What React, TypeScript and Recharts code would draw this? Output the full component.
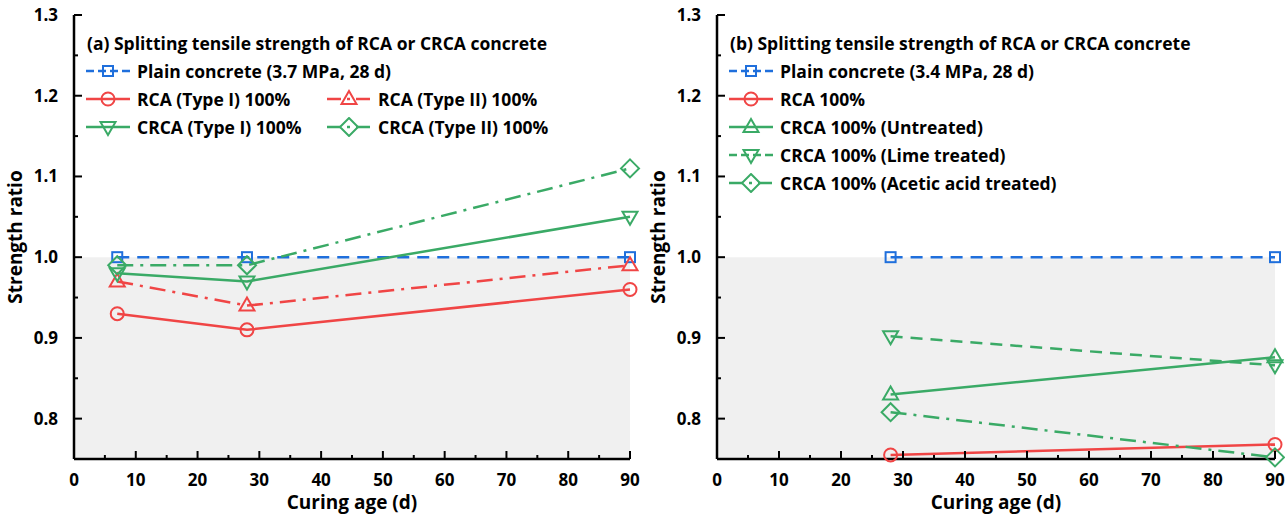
import { LineChart, Line, XAxis, YAxis, ReferenceArea } from 'recharts'

// (a) ages and strength ratios
const agesA = [7, 28, 90]
const plainA = [1.0, 1.0, 1.0]
const rcaType1A = [0.93, 0.91, 0.96]
const rcaType2A = [0.97, 0.94, 0.99]
const crcaType1A = [0.98, 0.97, 1.05]
const crcaType2A = [0.99, 0.99, 1.11]

// (b) ages and strength ratios
const agesB = [28, 90]
const plainB = [1.0, 1.0]
const rcaB = [0.755, 0.768]
const crcaUntreatedB = [0.83, 0.876]
const crcaLimeB = [0.902, 0.866]
const crcaAceticB = [0.808, 0.752]

const xTicks = [0, 5, 10, 15, 20, 25, 30, 35, 40, 45, 50, 55, 60, 65, 70, 75, 80, 85, 90]
const yTicks = [0.8, 0.85, 0.9, 0.95, 1.0, 1.05, 1.1, 1.15, 1.2, 1.25, 1.3]

const BLUE = '#1f6fdc'
const RED = '#f04545'
const GREEN = '#3aaa66'
const FONT = '"Open Sans", Lato, sans-serif'

const SOLID = undefined
const DASH = '12 8'
const DASHDOT = '16 7 3 7'

type Shape = 'square' | 'circle' | 'up' | 'down' | 'diamond'

interface SeriesDef {
  name: string
  ages: number[]
  values: number[]
  color: string
  dash?: string
  shape: Shape
}

const toPoints = (ages: number[], values: number[]) => ages.map((x, i) => ({ x, y: values[i] }))

function Marker({ shape, cx, cy, color }: { shape: Shape; cx: number; cy: number; color: string }) {
  const common = { fill: 'none', stroke: color, strokeWidth: 2 }
  switch (shape) {
    case 'square':
      return <rect x={cx - 5} y={cy - 5} width={10} height={10} {...common} />
    case 'circle':
      return <circle cx={cx} cy={cy} r={6.5} {...common} />
    case 'up':
      return <polygon points={`${cx},${cy - 8} ${cx - 7.5},${cy + 5} ${cx + 7.5},${cy + 5}`} {...common} />
    case 'down':
      return <polygon points={`${cx},${cy + 8} ${cx - 7.5},${cy - 5} ${cx + 7.5},${cy - 5}`} {...common} />
    default:
      return <polygon points={`${cx},${cy - 9} ${cx + 9},${cy} ${cx},${cy + 9} ${cx - 9},${cy}`} {...common} />
  }
}

const isMajorX = (v: number) => v % 10 === 0
const isMajorY = (v: number) => Math.round(v * 100) % 10 === 0

const BottomTick = (props: any) => {
  const { x, y, payload } = props
  const major = isMajorX(payload.value)
  return (
    <g>
      <line x1={x} x2={x} y1={y} y2={y - (major ? 8 : 4)} stroke="#000" strokeWidth={2} />
      {major && (
        <text x={x} y={y + 27} textAnchor="middle" fontSize={17} fontWeight={700} fontFamily={FONT} fill="#000">
          {payload.value}
        </text>
      )}
    </g>
  )
}

const TopTick = (props: any) => {
  const { x, y, payload } = props
  const major = isMajorX(payload.value)
  return <line x1={x} x2={x} y1={y} y2={y + (major ? 8 : 4)} stroke="#000" strokeWidth={2} />
}

const LeftTick = (props: any) => {
  const { x, y, payload } = props
  const major = isMajorY(payload.value)
  return (
    <g>
      <line x1={x} x2={x + (major ? 8 : 4)} y1={y} y2={y} stroke="#000" strokeWidth={2} />
      {major && (
        <text x={x - 16} y={y + 6} textAnchor="end" fontSize={17} fontWeight={700} fontFamily={FONT} fill="#000">
          {payload.value.toFixed(1)}
        </text>
      )}
    </g>
  )
}

const RightTick = (props: any) => {
  const { x, y, payload } = props
  const major = isMajorY(payload.value)
  return <line x1={x} x2={x - (major ? 8 : 4)} y1={y} y2={y} stroke="#000" strokeWidth={2} />
}

const XTitle = (props: any) => {
  const { viewBox } = props
  return (
    <text x={viewBox.x + viewBox.width / 2} y={viewBox.y + 50} textAnchor="middle" fontSize={19} fontWeight={700} fontFamily={FONT} fill="#000">
      Curing age (d)
    </text>
  )
}

const YTitle = (props: any) => {
  const { viewBox } = props
  const cx = viewBox.x + 22
  const cy = viewBox.y + viewBox.height / 2
  return (
    <text x={cx} y={cy} transform={`rotate(-90 ${cx} ${cy})`} textAnchor="middle" fontSize={19} fontWeight={700} fontFamily={FONT} fill="#000">
      Strength ratio
    </text>
  )
}

function LegendSample({ s }: { s: SeriesDef }) {
  const dash = s.dash === DASHDOT ? '14 6 3 6' : s.dash === DASH ? '8 4' : undefined
  return (
    <svg width={46} height={20} style={{ display: 'block', flex: 'none' }}>
      <line x1={1} x2={45} y1={10} y2={10} stroke={s.color} strokeWidth={2.5} strokeDasharray={dash} />
      <Marker shape={s.shape} cx={23} cy={10} color={s.color} />
    </svg>
  )
}

function LegendRow({ items }: { items: SeriesDef[] }) {
  return (
    <div style={{ display: 'flex', height: 28, alignItems: 'center' }}>
      {items.map((s, i) => (
        <div key={s.name} style={{ display: 'flex', alignItems: 'center', width: i === 0 && items.length > 1 ? 241 : undefined }}>
          <LegendSample s={s} />
          <span style={{ marginLeft: 6, whiteSpace: 'nowrap' }}>{s.name}</span>
        </div>
      ))}
    </div>
  )
}

function Panel({ left, rightMargin, title, series, rows }: { left: number; rightMargin: number; title: string; series: SeriesDef[]; rows: SeriesDef[][] }) {
  return (
    <div style={{ position: 'absolute', left, top: 0, width: 642, height: 519 }}>
      <LineChart width={642} height={519} margin={{ top: 15, right: rightMargin, bottom: 0, left: 0 }}>
        <XAxis
          type="number"
          dataKey="x"
          domain={[0, 90]}
          ticks={xTicks}
          interval={0}
          height={60}
          tickSize={0}
          tickMargin={0}
          tick={BottomTick}
          axisLine={{ stroke: '#000', strokeWidth: 2.5 }}
          label={<XTitle />}
          allowDuplicatedCategory={false}
        />
        <XAxis
          xAxisId="top"
          orientation="top"
          type="number"
          dataKey="x"
          domain={[0, 90]}
          ticks={xTicks}
          interval={0}
          height={0}
          tickSize={0}
          tickMargin={0}
          tick={TopTick}
          axisLine={{ stroke: '#000', strokeWidth: 2.5 }}
        />
        <YAxis
          type="number"
          domain={[0.75, 1.3]}
          ticks={yTicks}
          interval={0}
          width={74}
          tickSize={0}
          tickMargin={0}
          tick={LeftTick}
          axisLine={{ stroke: '#000', strokeWidth: 2.5 }}
          label={<YTitle />}
        />
        <YAxis
          yAxisId="right"
          orientation="right"
          type="number"
          domain={[0.75, 1.3]}
          ticks={yTicks}
          interval={0}
          width={0}
          tickSize={0}
          tickMargin={0}
          tick={RightTick}
          axisLine={{ stroke: '#000', strokeWidth: 2.5 }}
        />
        <ReferenceArea x1={0} x2={90} y1={0.75} y2={1.0} fill="#f0f0f0" fillOpacity={1} stroke="none" />
        {series.map((s) => (
          <Line
            key={s.name}
            data={toPoints(s.ages, s.values)}
            dataKey="y"
            name={s.name}
            stroke={s.color}
            strokeWidth={2.5}
            strokeDasharray={s.dash}
            isAnimationActive={false}
            dot={(p: any) => <Marker key={`${s.name}-${p.index}`} shape={s.shape} cx={p.cx} cy={p.cy} color={s.color} />}
          />
        ))}
      </LineChart>
      <div style={{ position: 'absolute', left: 85, top: 29, fontFamily: FONT, fontWeight: 700, fontSize: 17.5, color: '#000' }}>
        <div style={{ height: 28, lineHeight: '28px', paddingLeft: 2 }}>{title}</div>
        {rows.map((r, i) => (
          <LegendRow key={i} items={r} />
        ))}
      </div>
    </div>
  )
}

const seriesA: SeriesDef[] = [
  { name: 'Plain concrete (3.7 MPa, 28 d)', ages: agesA, values: plainA, color: BLUE, dash: DASH, shape: 'square' },
  { name: 'RCA (Type I) 100%', ages: agesA, values: rcaType1A, color: RED, dash: SOLID, shape: 'circle' },
  { name: 'RCA (Type II) 100%', ages: agesA, values: rcaType2A, color: RED, dash: DASHDOT, shape: 'up' },
  { name: 'CRCA (Type I) 100%', ages: agesA, values: crcaType1A, color: GREEN, dash: SOLID, shape: 'down' },
  { name: 'CRCA (Type II) 100%', ages: agesA, values: crcaType2A, color: GREEN, dash: DASHDOT, shape: 'diamond' },
]

const seriesB: SeriesDef[] = [
  { name: 'Plain concrete (3.4 MPa, 28 d)', ages: agesB, values: plainB, color: BLUE, dash: DASH, shape: 'square' },
  { name: 'RCA 100%', ages: agesB, values: rcaB, color: RED, dash: SOLID, shape: 'circle' },
  { name: 'CRCA 100% (Untreated)', ages: agesB, values: crcaUntreatedB, color: GREEN, dash: SOLID, shape: 'up' },
  { name: 'CRCA 100% (Lime treated)', ages: agesB, values: crcaLimeB, color: GREEN, dash: DASH, shape: 'down' },
  { name: 'CRCA 100% (Acetic acid treated)', ages: agesB, values: crcaAceticB, color: GREEN, dash: DASHDOT, shape: 'diamond' },
]

export default function App() {
  return (
    <div style={{ position: 'absolute', left: 0, top: 0, width: 1287, height: 519, background: '#fff' }}>
      <Panel
        left={0}
        rightMargin={12}
        title="(a) Splitting tensile strength of RCA or CRCA concrete"
        series={seriesA}
        rows={[[seriesA[0]], [seriesA[1], seriesA[2]], [seriesA[3], seriesA[4]]]}
      />
      <Panel
        left={643}
        rightMargin={10}
        title="(b) Splitting tensile strength of RCA or CRCA concrete"
        series={seriesB}
        rows={[[seriesB[0]], [seriesB[1]], [seriesB[2]], [seriesB[3]], [seriesB[4]]]}
      />
    </div>
  )
}
